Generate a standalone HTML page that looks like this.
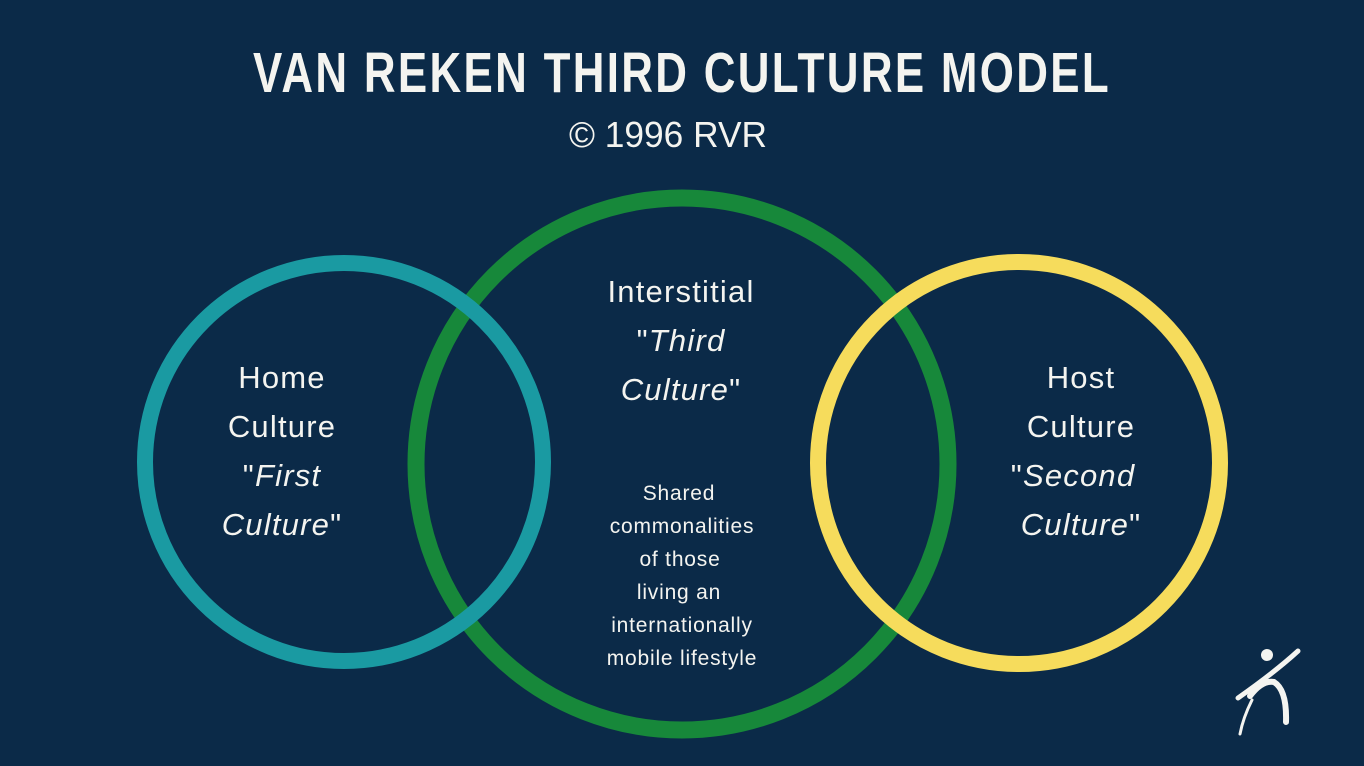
<!DOCTYPE html>
<html><head><meta charset="utf-8"><style>
html,body{margin:0;padding:0;background:#0b2a48;}
svg{display:block}
</style></head><body>
<svg width="1364" height="766" viewBox="0 0 1364 766" xmlns="http://www.w3.org/2000/svg">
<rect width="1364" height="766" fill="#0b2a48"/>
<g font-family="Liberation Sans, sans-serif" fill="#f4f4f0" text-anchor="middle">
<text x="682" y="92" font-size="57" font-weight="bold" letter-spacing="3" textLength="858" lengthAdjust="spacingAndGlyphs">VAN REKEN THIRD CULTURE MODEL</text>
<text x="668" y="147" font-size="36" textLength="198" lengthAdjust="spacingAndGlyphs">© 1996 RVR</text>
</g>
<circle cx="682" cy="464" r="266" fill="none" stroke="#17883a" stroke-width="17"/>
<circle cx="344" cy="462" r="199" fill="none" stroke="#1a9aa2" stroke-width="16"/>
<circle cx="1019" cy="463" r="201" fill="none" stroke="#f6dc5c" stroke-width="16"/>
<g font-family="Liberation Sans, sans-serif" fill="#f4f4f0" text-anchor="middle" font-size="31" letter-spacing="1.2">
<text x="282" y="388">Home</text>
<text x="282" y="437">Culture</text>
<text x="282" y="486">"<tspan font-style="italic">First</tspan></text>
<text x="282" y="535"><tspan font-style="italic">Culture</tspan>"</text>
<text x="681" y="302">Interstitial</text>
<text x="681" y="351">"<tspan font-style="italic">Third</tspan></text>
<text x="681" y="400"><tspan font-style="italic">Culture</tspan>"</text>
<text x="1081" y="388">Host</text>
<text x="1081" y="437">Culture</text>
<text x="1073" y="486">"<tspan font-style="italic">Second</tspan></text>
<text x="1081" y="535"><tspan font-style="italic">Culture</tspan>"</text>
</g>
<g font-family="Liberation Sans, sans-serif" fill="#f4f4f0" text-anchor="middle" font-size="21" letter-spacing="0.8">
<text x="679" y="500">Shared</text>
<text x="682" y="533">commonalities</text>
<text x="680" y="566">of those</text>
<text x="679" y="599">living an</text>
<text x="682" y="632">internationally</text>
<text x="682" y="665">mobile lifestyle</text>
</g>
<g fill="none" stroke="#f4f4f0" stroke-linecap="round">
<circle cx="1267" cy="655" r="6" fill="#f4f4f0" stroke="none"/>
<path d="M1298 651 Q1275 672 1238 698" stroke-width="5"/>
<path d="M1250 696 Q1262 680 1274 682 Q1287 690 1286 722" stroke-width="6"/>
<path d="M1252 700 Q1243 718 1240 734" stroke-width="3"/>
</g>
</svg>
</body></html>
